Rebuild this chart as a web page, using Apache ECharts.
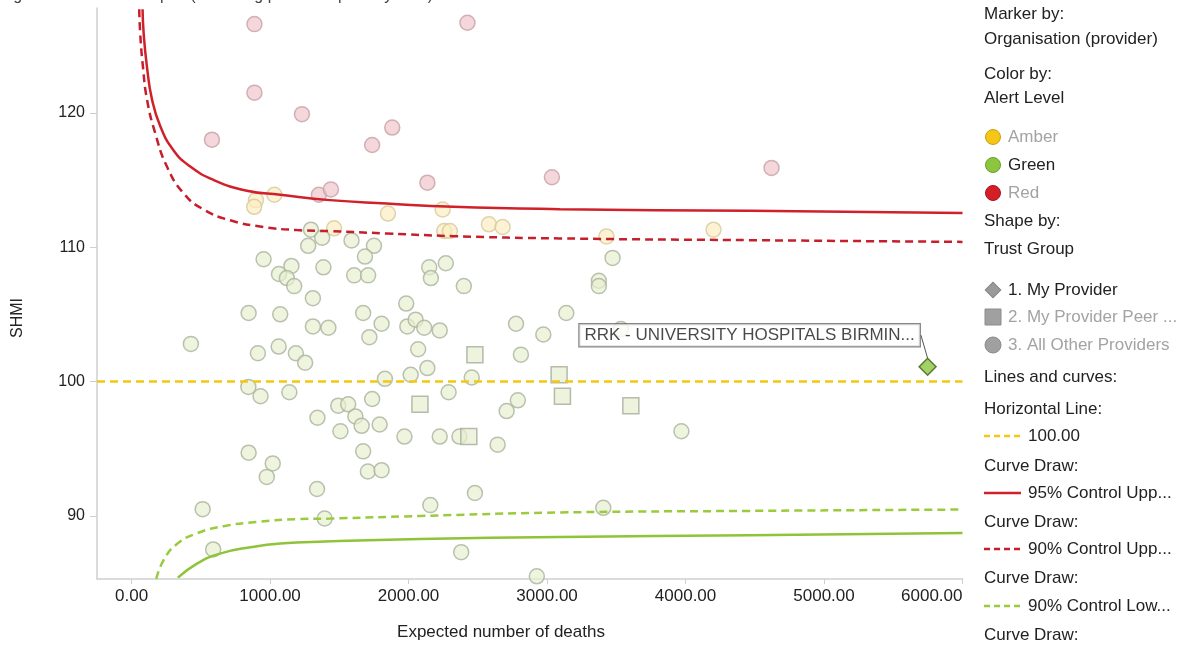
<!DOCTYPE html>
<html>
<head>
<meta charset="utf-8">
<script src="https://cdn.jsdelivr.net/npm/echarts@6/dist/echarts.min.js"></script>
<style>
  html, body { margin: 0; padding: 0; background: #fff; }
  #chart { width: 1181px; height: 646px; }
</style>
</head>
<body>
<div id="chart"></div>
<script>
// Expected deaths vs SHMI, one point per provider, coloured by alert level
const redProviders = [
  [887, 126.6], [2425, 126.7], [887, 121.5], [580, 118.0], [1230, 119.9],
  [1882, 118.9], [1737, 117.6], [1352, 113.9], [1439, 114.3], [2136, 114.8],
  [3035, 115.2], [4621, 115.9]
];
const amberProviders = [
  [898, 113.5], [885, 113.0], [1031, 113.9], [1851, 112.5], [2246, 112.8],
  [2257, 111.2], [2298, 111.2], [2580, 111.7], [2679, 111.5], [1462, 111.4],
  [3429, 110.8], [4202, 111.3]
];
const greenProviders = [
  [1295, 111.3], [1376, 110.7], [1275, 110.1], [1588, 110.5], [1750, 110.1],
  [1685, 109.3], [953, 109.1], [1154, 108.6], [1385, 108.5], [1064, 108.0],
  [1121, 107.7], [1174, 107.1], [1607, 107.9], [1708, 107.9], [2149, 108.5],
  [2161, 107.7], [2269, 108.8], [2399, 107.1], [1309, 106.2], [1983, 105.8],
  [3473, 109.2], [3374, 107.5], [3374, 107.1], [845, 105.1], [1073, 105.0],
  [1309, 104.1], [1421, 104.0], [428, 102.8], [912, 102.1], [1062, 102.6],
  [1186, 102.1], [1253, 101.4], [843, 99.6], [931, 98.9], [1139, 99.2],
  [1342, 97.3], [1492, 98.2], [1564, 98.3], [1616, 97.4], [1661, 96.7],
  [1737, 98.7], [1508, 96.3], [1791, 96.8], [1672, 105.1], [1805, 104.3],
  [1717, 103.3], [1991, 104.1], [2051, 104.6], [2113, 104.0], [2225, 103.8],
  [2069, 102.4], [2136, 101.0], [2015, 100.5], [1829, 100.2], [2456, 100.3],
  [2289, 99.2], [2367, 95.9], [1970, 95.9], [2225, 95.9], [2643, 95.3],
  [2708, 97.8], [2789, 98.6], [2776, 104.3], [2811, 102.0], [2973, 103.5],
  [3139, 105.1], [1672, 94.8], [1706, 93.3], [1805, 93.4], [1339, 92.0],
  [845, 94.7], [1019, 93.9], [976, 92.9], [2157, 90.8], [2479, 91.7],
  [513, 90.5], [1394, 89.8], [589, 87.5], [2380, 87.3], [2926, 85.5],
  [3970, 96.3], [3406, 90.6], [3533, 103.9]
];
// Peer providers (squares) and the selected provider (diamond)
const peerProviders = [
  [2479, 102.0], [2082, 98.3], [2435, 95.9], [3087, 100.5], [3111, 98.9], [3605, 98.2]
];
const myProviderName = 'RRK - UNIVERSITY HOSPITALS BIRMIN...';
const myProvider = [[5748, 101.1]];

// Funnel limits: [expected deaths, SHMI]
const upper95 = [
  [79, 127.7], [87, 125.9], [111, 123.4], [147, 121.0], [207, 119.0], [303, 117.2],
  [423, 116.0], [592, 115.0], [833, 114.2], [1073, 113.9], [1432, 113.5],
  [1841, 113.25], [2322, 113.0], [3092, 112.83], [4464, 112.7], [6000, 112.55]
];
const upper90 = [
  [55, 127.7], [62, 125.9], [82, 123.4], [111, 121.0], [170, 118.5], [255, 116.0],
  [376, 114.0], [520, 112.8], [712, 112.0], [953, 111.5], [1194, 111.27],
  [1432, 111.19], [1841, 111.02], [2322, 110.82], [3092, 110.65], [4464, 110.52], [6000, 110.39]
];
const lower90 = [
  [178, 85.3], [231, 86.7], [327, 87.9], [472, 88.7], [664, 89.23], [905, 89.55],
  [1194, 89.75], [1432, 89.8], [2082, 89.99], [3092, 90.25], [4464, 90.37], [6000, 90.47]
];
const lower95 = [
  [334, 85.4], [472, 86.45], [638, 87.19], [869, 87.68], [1073, 87.94], [1396, 88.09],
  [2082, 88.28], [3092, 88.43], [4464, 88.56], [6000, 88.73]
];
const referenceLevel = 100;

const xTicks = [0, 1000, 2000, 3000, 4000, 5000, 6000];
const yTicks = [90, 100, 110, 120];

const FONT = '"Liberation Sans", Arial, sans-serif';
const TEXT = '#222';
const MUTED = '#a3a3a3';

const chart = echarts.init(document.getElementById('chart'), null, { renderer: 'canvas' });

function circleSeries(name, data, fill, border) {
  return {
    name, type: 'scatter', data, symbol: 'circle', symbolSize: 15, z: 2,
    itemStyle: { color: fill, borderColor: border, borderWidth: 1.5 }
  };
}

function curveSeries(name, data, color, dashed) {
  return {
    name, type: 'line', data, smooth: 0.5, showSymbol: false, z: 4,
    lineStyle: { color, width: 2.5, type: dashed ? [8, 5] : 'solid' },
    silent: true
  };
}

// Right-hand key, drawn as plain text and shapes
const keyX = 984;
const keyItems = [];
function keyText(text, y, color, x) {
  keyItems.push({
    type: 'text', x: x || keyX, y,
    style: { text, fill: color || TEXT, font: '17px ' + FONT, verticalAlign: 'middle' }
  });
}
function keyLine(y, color, dashed) {
  keyItems.push({
    type: 'line', shape: { x1: keyX, y1: y, x2: keyX + 37, y2: y },
    style: { stroke: color, lineWidth: 2.5, lineDash: dashed ? [6, 4] : null }
  });
}
keyText('Marker by:', 14);
keyText('Organisation (provider)', 39);
keyText('Color by:', 74);
keyText('Alert Level', 98);
[['Amber', '#f5c518', '#c9a00e', MUTED, 137], ['Green', '#8cc63f', '#6d9c2c', TEXT, 165],
 ['Red', '#d51f27', '#a5151b', MUTED, 193]].forEach(([label, fill, stroke, color, y]) => {
  keyItems.push({ type: 'circle', shape: { cx: 993, cy: y, r: 7.5 }, style: { fill, stroke, lineWidth: 1 } });
  keyText(label, y, color, 1008);
});
keyText('Shape by:', 221);
keyText('Trust Group', 249);
keyItems.push({ type: 'rect', shape: { x: -5.5, y: -5.5, width: 11, height: 11 }, x: 993, y: 290, rotation: Math.PI / 4,
  style: { fill: '#9a9a9a', stroke: '#858585', lineWidth: 1 } });
keyText('1. My Provider', 290, TEXT, 1008);
keyItems.push({ type: 'rect', shape: { x: 985, y: 309, width: 16, height: 16 }, style: { fill: '#a0a0a0', stroke: '#8c8c8c', lineWidth: 1 } });
keyText('2. My Provider Peer ...', 317, MUTED, 1008);
keyItems.push({ type: 'circle', shape: { cx: 993, cy: 345, r: 8 }, style: { fill: '#a0a0a0', stroke: '#8c8c8c', lineWidth: 1 } });
keyText('3. All Other Providers', 345, MUTED, 1008);
keyText('Lines and curves:', 377);
keyText('Horizontal Line:', 409);
keyLine(436, '#f2c812', true);
keyText('100.00', 436, TEXT, 1028);
keyText('Curve Draw:', 466);
keyLine(493, '#d0202a', false);
keyText('95% Control Upp...', 493, TEXT, 1028);
keyText('Curve Draw:', 522);
keyLine(549, '#c41f2b', true);
keyText('90% Control Upp...', 549, TEXT, 1028);
keyText('Curve Draw:', 578);
keyLine(606, '#9acb3c', true);
keyText('90% Control Low...', 606, TEXT, 1028);
keyText('Curve Draw:', 635);

// Axis titles
keyItems.push({
  type: 'text', x: 501, y: 632,
  style: { text: 'Expected number of deaths', fill: TEXT, font: '17px ' + FONT, align: 'center', verticalAlign: 'middle' }
});
keyItems.push({
  type: 'text', x: 18, y: 318, rotation: Math.PI / 2,
  style: { text: 'SHMI', fill: TEXT, font: '16px ' + FONT, align: 'center', verticalAlign: 'middle' }
});

// Chart heading, mostly above the visible area
keyItems.push({
  type: 'text', x: 0, y: -12,
  style: { text: 'Figure 1: SHMI funnel plot (excluding provider spells by trust)', fill: '#444', font: '16px ' + FONT }
});

const option = {
  animation: false,
  backgroundColor: '#fff',
  textStyle: { fontFamily: FONT },
  grid: { left: 97, right: 218.5, top: 8, bottom: 67, containLabel: false },
  xAxis: {
    type: 'value', min: -250, max: 6000,
    axisLine: { show: true, onZero: false, lineStyle: { color: '#cfcfcf', width: 1.5 } },
    axisTick: { show: true, length: 5, customValues: xTicks, lineStyle: { color: '#cfcfcf' } },
    axisLabel: {
      customValues: xTicks, color: TEXT, fontSize: 17, fontFamily: FONT, margin: 9,
      alignMaxLabel: 'right',
      formatter: v => v.toFixed(2)
    },
    splitLine: { show: false }
  },
  yAxis: {
    type: 'value', min: 85.3, max: 127.8,
    axisLine: { show: true, onZero: false, lineStyle: { color: '#cfcfcf', width: 1.5 } },
    axisTick: { show: true, length: 7, customValues: yTicks, lineStyle: { color: '#cfcfcf' } },
    axisLabel: { customValues: yTicks, color: TEXT, fontSize: 16, fontFamily: FONT, margin: 12 },
    splitLine: { show: false }
  },
  graphic: keyItems,
  series: [
    circleSeries('Red', redProviders, 'rgba(240,196,202,0.85)', '#c4a1a6'),
    circleSeries('Amber', amberProviders, 'rgba(252,238,192,0.85)', '#d6c99a'),
    circleSeries('Green', greenProviders, 'rgba(230,239,206,0.85)', '#a9b39c'),
    {
      name: 'Peers', type: 'scatter', data: peerProviders, symbol: 'rect', symbolSize: 16, z: 2,
      itemStyle: { color: 'rgba(230,239,206,0.9)', borderColor: '#a5ab9b', borderWidth: 1.5 }
    },
    curveSeries('95% Control Upper', upper95, '#d0202a', false),
    curveSeries('90% Control Upper', upper90, '#c41f2b', true),
    curveSeries('90% Control Lower', lower90, '#9acb3c', true),
    curveSeries('95% Control Lower', lower95, '#8dc43a', false),
    {
      name: 'Reference', type: 'line', silent: true, z: 4,
      data: [],
      markLine: {
        silent: true, symbol: 'none', label: { show: false },
        lineStyle: { color: '#f2c812', width: 2.5, type: [8, 5] },
        data: [{ yAxis: referenceLevel }]
      }
    },
    {
      name: 'My Provider', type: 'scatter', data: myProvider, symbol: 'rect', symbolSize: 12,
      symbolRotate: 45, z: 6,
      itemStyle: { color: '#8cc63f', borderColor: '#3f5e17', borderWidth: 1.5 },
      label: {
        show: true, position: 'top', formatter: () => myProviderName,
        color: '#1a1a1a', fontSize: 17, fontFamily: FONT,
        backgroundColor: '#fff', borderColor: '#666', borderWidth: 1.2,
        padding: [3, 5, 2, 5]
      },
      labelLayout: { dx: -178, dy: -6 },
      labelLine: { show: true, lineStyle: { color: '#555', width: 1 } }
    }
  ]
};

chart.setOption(option);
</script>
</body>
</html>
